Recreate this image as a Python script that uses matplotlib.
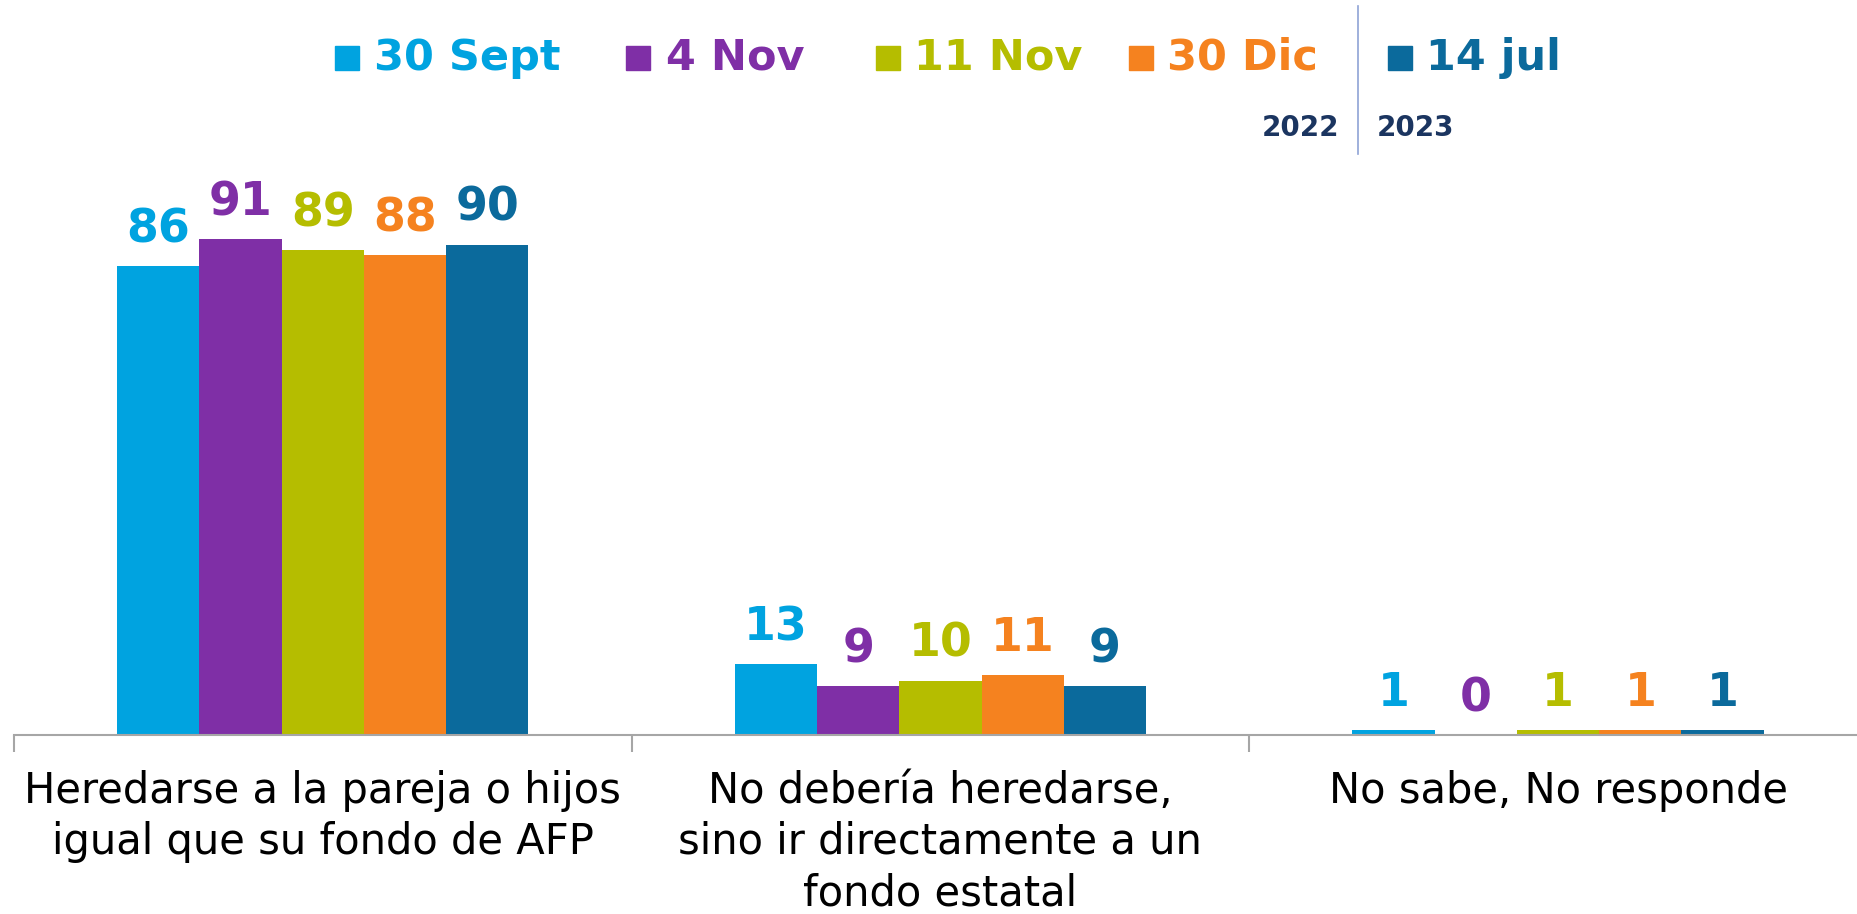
import matplotlib
matplotlib.use("Agg")
import matplotlib.pyplot as plt
from matplotlib.patches import Rectangle
import numpy as np

categories = ["Heredarse a la pareja o hijos\nigual que su fondo de AFP",
              "No debería heredarse,\nsino ir directamente a un\nfondo estatal",
              "No sabe, No responde"]
series_names = ["30 Sept", "4 Nov", "11 Nov", "30 Dic", "14 jul"]
colors = ["#00A3E0", "#7F2FA6", "#B5BD00", "#F5821F", "#0B6A9C"]
values_30sept = [86, 13, 1]
values_4nov = [91, 9, 0]
values_11nov = [89, 10, 1]
values_30dic = [88, 11, 1]
values_14jul = [90, 9, 1]
year_labels = ["2022", "2023"]

series_values = [values_30sept, values_4nov, values_11nov, values_30dic, values_14jul]

W, H = 1857, 914
fig = plt.figure(figsize=(W / 100, H / 100), dpi=100)
ax_left = 14
ax_width = 3 * 521.5 * 1.1843
ax = fig.add_axes([ax_left / W, (H - 735) / H, ax_width / W, (735 - 190) / H])

n = len(series_names)
x = np.arange(len(categories))
bw = 0.666 / n
for i, (name, vals, c) in enumerate(zip(series_names, series_values, colors)):
    pos = x - 0.333 + bw * (i + 0.5)
    ax.bar(pos, vals, width=bw, color=c, zorder=2)
    for p, v in zip(pos, vals):
        ax.annotate(f"{v}", (p, v), xytext=(0, 10), textcoords="offset points",
                    ha="center", va="bottom", color=c, fontsize=33,
                    fontweight="bold", family="DejaVu Sans")

ax.set_xlim(-0.5, len(categories) - 0.5)
ax.set_ylim(0, 100)
for s in ["top", "right", "left"]:
    ax.spines[s].set_visible(False)
ax.spines["bottom"].set_color("#A6A6A6")
ax.spines["bottom"].set_linewidth(1.5)
ax.set_yticks([])
ax.set_xticks(x)
ax.set_xticklabels(categories, fontsize=30, color="black", linespacing=1.28)
ax.tick_params(axis="x", which="major", length=0, pad=25)
ax.set_xticks(np.arange(len(categories) + 1) - 0.5, minor=True)
ax.tick_params(axis="x", which="minor", length=12, color="#A6A6A6", width=1.5)

# custom legend
sq_x = [335, 626, 876, 1129, 1388]
tx_x = [374, 666, 914, 1167, 1426]
ly = 58
sq = 24
for name, c, sx, tx in zip(series_names, colors, sq_x, tx_x):
    fig.patches.append(Rectangle((sx / W, (H - ly - sq / 2) / H), sq / W, sq / H,
                                 transform=fig.transFigure, color=c))
    fig.text(tx / W, (H - ly) / H, name, color=c, fontsize=31, fontweight="bold",
             ha="left", va="center", family="DejaVu Sans")
fig.add_artist(plt.Line2D([1358 / W, 1358 / W], [(H - 6) / H, (H - 154) / H],
                          transform=fig.transFigure, color="#8FA3D6", lw=1.2))
fig.text(1339 / W, (H - 128) / H, year_labels[0], color="#1B3560", fontsize=20,
         fontweight="bold", ha="right", va="center")
fig.text(1377 / W, (H - 128) / H, year_labels[1], color="#1B3560", fontsize=20,
         fontweight="bold", ha="left", va="center")

fig.savefig("out.png", dpi=100, facecolor="white")
